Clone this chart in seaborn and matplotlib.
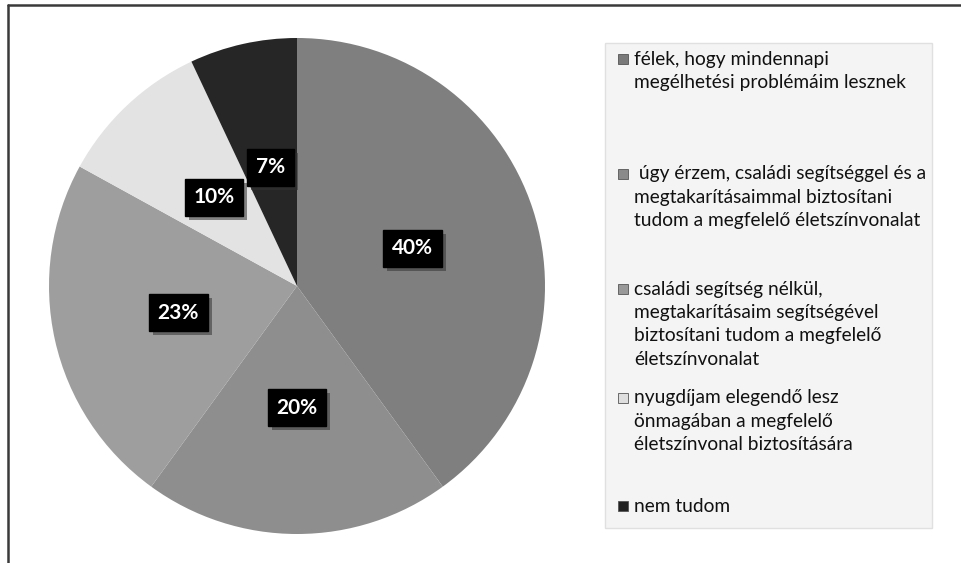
import matplotlib
matplotlib.use("Agg")
import matplotlib.pyplot as plt
import matplotlib.patheffects as pe
from matplotlib.patches import Rectangle
from matplotlib.lines import Line2D
import seaborn as sns

# ---- data ----
categories = [
    "félek, hogy mindennapi\nmegélhetési problémáim lesznek",
    " úgy érzem, családi segítséggel és a\nmegtakarításaimmal biztosítani\ntudom a megfelelő életszínvonalat",
    "családi segítség nélkül,\nmegtakarításaim segítségével\nbiztosítani tudom a megfelelő\néletszínvonalat",
    "nyugdíjam elegendő lesz\nönmagában a megfelelő\néletszínvonal biztosítására",
    "nem tudom",
]
values = [40, 20, 23, 10, 7]
colors = ["#7f7f7f", "#8e8e8e", "#9e9e9e", "#e3e3e3", "#262626"]
marker_colors = ["#7a7a7a", "#8a8a8a", "#999999", "#dedede", "#222222"]

sns.set_theme(style="white")
plt.rcParams["font.family"] = ["Lato", "DejaVu Sans"]

W, H = 961, 563
fig = plt.figure(figsize=(W / 100, H / 100), dpi=100)
fig.patch.set_facecolor("white")

def fx(px):
    return px / W

def fy(py):
    return 1 - py / H

# pie axes: center (297, 286), radius 248 px
cx, cy, r = 297, 286, 248
ax = fig.add_axes([fx(cx - r), fy(cy + r), 2 * r / W, 2 * r / H])
wedges, texts, autotexts = ax.pie(
    values,
    colors=colors,
    startangle=90,
    counterclock=False,
    autopct=lambda p: f"{p:.0f}%",
    pctdistance=0.49,
    wedgeprops=dict(linewidth=0),
    textprops=dict(color="white", fontsize=15, fontweight="bold"),
)
for t in autotexts:
    t.set_bbox(dict(boxstyle="square,pad=0.42", facecolor="black", edgecolor="black"))
    t.get_bbox_patch().set_path_effects([
        pe.SimplePatchShadow(offset=(3, -3), alpha=0.55, shadow_rgbFace="#333333"),
        pe.Normal(),
    ])
ax.set_xlim(-1, 1)
ax.set_ylim(-1, 1)
ax.set_aspect("equal")
ax.axis("off")

# outer frame (top and left)
fig.add_artist(Line2D([fx(8), 1.0], [fy(5), fy(5)], color="#3a3a3a", linewidth=1.8, transform=fig.transFigure))
fig.add_artist(Line2D([fx(8), fx(8)], [fy(5), 0.0], color="#3a3a3a", linewidth=1.8, transform=fig.transFigure))

# legend box
lx0, ly0, lx1, ly1 = 605, 43, 932, 528
fig.add_artist(Rectangle((fx(lx0), fy(ly1)), (lx1 - lx0) / W, (ly1 - ly0) / H,
                         transform=fig.transFigure, facecolor="#f4f4f4",
                         edgecolor="#e0e0e0", linewidth=1.0))

item_y = [59, 174, 289, 398, 506]
line_step = 23.5
for cat, mc, y0 in zip(categories, marker_colors, item_y):
    ms = 10
    fig.add_artist(Rectangle((fx(618), fy(y0 + ms / 2)), ms / W, ms / H,
                             transform=fig.transFigure, facecolor=mc,
                             edgecolor="#555555", linewidth=0.6))
    for i, line in enumerate(cat.split("\n")):
        fig.text(fx(634), fy(y0 + i * line_step), line, fontsize=13.8,
                 color="#111111", va="center", ha="left")

fig.savefig("out.png", dpi=100)
